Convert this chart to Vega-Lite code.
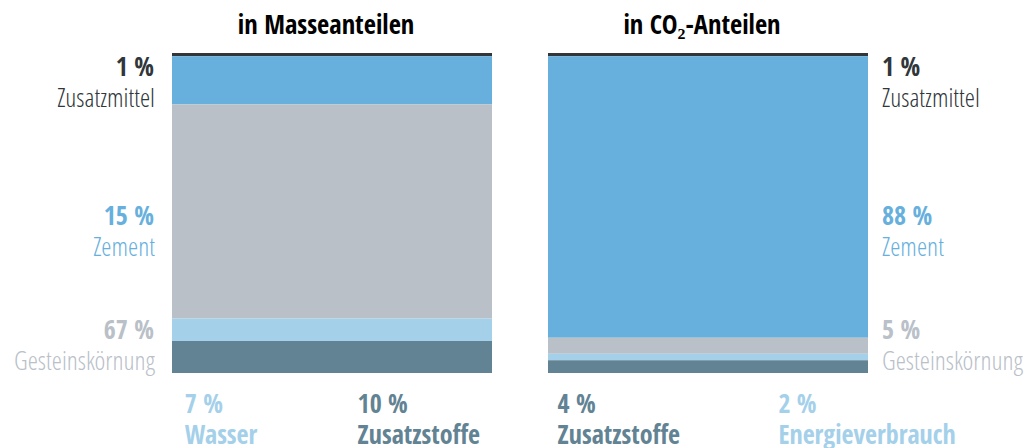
{
  "$schema": "https://vega.github.io/schema/vega-lite/v6.json",
  "width": 696,
  "height": 320,
  "autosize": {"type": "none"},
  "padding": {"left": 172, "top": 53, "right": 165, "bottom": 75},
  "background": "#ffffff",
  "config": {
    "view": {"stroke": null},
    "font": "Open Sans Condensed",
    "text": {"font": "Open Sans Condensed", "fontSize": 26, "baseline": "alphabetic"},
    "locale": {"number": {"decimal": ",", "thousands": ".", "grouping": [3], "currency": ["", " €"], "percent": " %"}}
  },
  "data": {
    "values": [
      {"ansicht": "in Masseanteilen", "kategorie": "Zusatzmittel", "anteil": 0.01, "rang": 1},
      {"ansicht": "in Masseanteilen", "kategorie": "Zement", "anteil": 0.15, "rang": 2},
      {"ansicht": "in Masseanteilen", "kategorie": "Gesteinskörnung", "anteil": 0.67, "rang": 3},
      {"ansicht": "in Masseanteilen", "kategorie": "Wasser", "anteil": 0.07, "rang": 4},
      {"ansicht": "in Masseanteilen", "kategorie": "Zusatzstoffe", "anteil": 0.10, "rang": 5},
      {"ansicht": "in CO₂-Anteilen", "kategorie": "Zusatzmittel", "anteil": 0.01, "rang": 1},
      {"ansicht": "in CO₂-Anteilen", "kategorie": "Zement", "anteil": 0.88, "rang": 2},
      {"ansicht": "in CO₂-Anteilen", "kategorie": "Gesteinskörnung", "anteil": 0.05, "rang": 3},
      {"ansicht": "in CO₂-Anteilen", "kategorie": "Energieverbrauch", "anteil": 0.02, "rang": 4},
      {"ansicht": "in CO₂-Anteilen", "kategorie": "Zusatzstoffe", "anteil": 0.04, "rang": 5}
    ]
  },
  "encoding": {
    "color": {
      "field": "kategorie",
      "type": "nominal",
      "legend": null,
      "scale": {
        "domain": ["Zusatzmittel", "Zement", "Gesteinskörnung", "Wasser", "Energieverbrauch", "Zusatzstoffe"],
        "range": ["#30363a", "#67b0dd", "#b9c0c8", "#a4d0ea", "#a4d0ea", "#628393"]
      }
    }
  },
  "layer": [
    {
      "layer": [
        {
          "mark": {"type": "bar", "strokeWidth": 0},
          "encoding": {
            "x": {
              "field": "ansicht", "type": "nominal",
              "sort": ["in Masseanteilen", "in CO₂-Anteilen"],
              "scale": {"domain": ["in Masseanteilen", "in CO₂-Anteilen"], "paddingInner": 0.1489, "paddingOuter": 0},
              "axis": {
                "orient": "top", "title": null, "ticks": false, "domain": false,
                "labelAngle": 0, "labelFont": "Open Sans Condensed", "labelFontSize": 26.5,
                "labelFontWeight": "bold", "labelColor": "#000000", "labelPadding": 20,
                "labelBaseline": "alphabetic", "labelOffset": -6
              }
            },
            "y": {
              "field": "anteil", "type": "quantitative", "stack": "zero",
              "scale": {"domain": [0, 1], "nice": false}, "axis": null
            },
            "order": {"field": "rang", "type": "quantitative", "sort": "descending"}
          }
        },
        {
          "transform": [{"filter": "datum.ansicht == 'in Masseanteilen' && datum.kategorie == 'Wasser'"}],
          "encoding": {
            "x": {"field": "ansicht", "type": "nominal", "sort": ["in Masseanteilen", "in CO₂-Anteilen"], "bandPosition": 0.04, "axis": null},
            "y": {"datum": 0, "type": "quantitative"}
          },
          "layer": [
            {"mark": {"type": "text", "align": "left", "dy": 40, "fontWeight": "bold"}, "encoding": {"text": {"field": "anteil", "format": ".0%"}}},
            {"mark": {"type": "text", "align": "left", "dy": 71, "fontWeight": "bold"}, "encoding": {"text": {"field": "kategorie"}}}
          ]
        },
        {
          "transform": [{"filter": "datum.ansicht == 'in Masseanteilen' && datum.kategorie == 'Zusatzstoffe'"}],
          "encoding": {
            "x": {"field": "ansicht", "type": "nominal", "sort": ["in Masseanteilen", "in CO₂-Anteilen"], "bandPosition": 0.58, "axis": null},
            "y": {"datum": 0, "type": "quantitative"}
          },
          "layer": [
            {"mark": {"type": "text", "align": "left", "dy": 40, "fontWeight": "bold"}, "encoding": {"text": {"field": "anteil", "format": ".0%"}}},
            {"mark": {"type": "text", "align": "left", "dy": 71, "fontWeight": "bold"}, "encoding": {"text": {"field": "kategorie"}}}
          ]
        },
        {
          "transform": [{"filter": "datum.ansicht == 'in CO₂-Anteilen' && datum.kategorie == 'Zusatzstoffe'"}],
          "encoding": {
            "x": {"field": "ansicht", "type": "nominal", "sort": ["in Masseanteilen", "in CO₂-Anteilen"], "bandPosition": 0.03, "axis": null},
            "y": {"datum": 0, "type": "quantitative"}
          },
          "layer": [
            {"mark": {"type": "text", "align": "left", "dy": 40, "fontWeight": "bold"}, "encoding": {"text": {"field": "anteil", "format": ".0%"}}},
            {"mark": {"type": "text", "align": "left", "dy": 71, "fontWeight": "bold"}, "encoding": {"text": {"field": "kategorie"}}}
          ]
        },
        {
          "transform": [{"filter": "datum.ansicht == 'in CO₂-Anteilen' && datum.kategorie == 'Energieverbrauch'"}],
          "encoding": {
            "x": {"field": "ansicht", "type": "nominal", "sort": ["in Masseanteilen", "in CO₂-Anteilen"], "bandPosition": 0.72, "axis": null},
            "y": {"datum": 0, "type": "quantitative"}
          },
          "layer": [
            {"mark": {"type": "text", "align": "left", "dy": 40, "fontWeight": "bold"}, "encoding": {"text": {"field": "anteil", "format": ".0%"}}},
            {"mark": {"type": "text", "align": "left", "dy": 71, "fontWeight": "bold"}, "encoding": {"text": {"field": "kategorie"}}}
          ]
        }
      ],
      "resolve": {"axis": {"x": "independent"}}
    },
    {
      "transform": [{"filter": "datum.rang <= 3"}],
      "encoding": {
        "y": {
          "field": "rang", "type": "quantitative",
          "scale": {"type": "sqrt", "domain": [1, 3], "range": [23, 286], "zero": false, "nice": false},
          "axis": null
        }
      },
      "layer": [
        {
          "transform": [{"filter": "datum.ansicht == 'in Masseanteilen'"}],
          "encoding": {
            "x": {"field": "ansicht", "type": "nominal", "sort": ["in Masseanteilen", "in CO₂-Anteilen"], "bandPosition": 0, "axis": null}
          },
          "layer": [
            {"mark": {"type": "text", "align": "right", "dx": -18, "fontWeight": "bold"}, "encoding": {"text": {"field": "anteil", "format": ".0%"}}},
            {"mark": {"type": "text", "align": "right", "dx": -17, "dy": 31, "fontWeight": 300, "font": "Open Sans Condensed Light"}, "encoding": {"text": {"field": "kategorie"}}}
          ]
        },
        {
          "transform": [{"filter": "datum.ansicht == 'in CO₂-Anteilen'"}],
          "encoding": {
            "x": {"field": "ansicht", "type": "nominal", "sort": ["in Masseanteilen", "in CO₂-Anteilen"], "bandPosition": 1, "axis": null}
          },
          "layer": [
            {"mark": {"type": "text", "align": "left", "dx": 14, "fontWeight": "bold"}, "encoding": {"text": {"field": "anteil", "format": ".0%"}}},
            {"mark": {"type": "text", "align": "left", "dx": 14, "dy": 31, "fontWeight": "normal", "font": "Open Sans Condensed Light"}, "encoding": {"text": {"field": "kategorie"}}}
          ]
        }
      ]
    }
  ],
  "resolve": {"scale": {"y": "independent"}, "axis": {"x": "independent"}}
}
